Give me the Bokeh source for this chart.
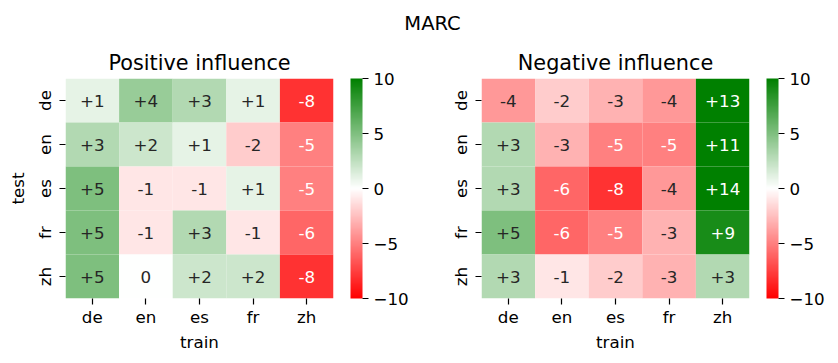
import numpy as np
from bokeh.plotting import figure
from bokeh.models import (FactorRange, ColumnDataSource, LinearColorMapper, ColorBar,
                          FixedTicker)
from bokeh.layouts import column, row
from bokeh.embed import file_html
from bokeh.resources import INLINE
from bokeh.core.properties import value
from bokeh.transform import transform

# ---------------- data ----------------
main_title = "MARC"
subtitles = ["Positive influence", "Negative influence"]
train_langs = ["de", "en", "es", "fr", "zh"]
test_langs = ["de", "en", "es", "fr", "zh"]
# rows = test language, columns = train language
positive = [
    [1, 4, 3, 1, -8],
    [3, 2, 1, -2, -5],
    [5, -1, -1, 1, -5],
    [5, -1, 3, -1, -6],
    [5, 0, 2, 2, -8],
]
negative = [
    [-4, -2, -3, -4, 13],
    [3, -3, -5, -5, 11],
    [3, -6, -8, -4, 14],
    [5, -6, -5, -3, 9],
    [3, -1, -2, -3, 3],
]
cbar_ticks = [-10, -5, 0, 5, 10]
cbar_tick_labels = ["\u221210", "\u22125", "0", "5", "10"]
vmin, vmax = -10, 10

FONT = "DejaVu Sans"
DARK = "#262626"


def rgb_at(t):
    t = min(max(t, 0.0), 1.0)
    if t < 0.5:
        f = t / 0.5
        return (255.0, 255.0 * f, 255.0 * f)
    f = (t - 0.5) / 0.5
    return (255.0 * (1 - f), 255.0 + (128.0 - 255.0) * f, 255.0 * (1 - f))


def hexc(c):
    return "#%02x%02x%02x" % tuple(int(round(v)) for v in c)


palette = [hexc(rgb_at(i / 255.0)) for i in range(256)]


def lum(c):
    out = []
    for v in c:
        v = v / 255.0
        out.append(v / 12.92 if v <= 0.03928 else ((v + 0.055) / 1.055) ** 2.4)
    return 0.2126 * out[0] + 0.7152 * out[1] + 0.0722 * out[2]


def heat(matrix, subtitle, show_ylabel, left_border, right_border):
    xs, ys, vals, labs, tcols = [], [], [], [], []
    for i, tl in enumerate(test_langs):
        for j, tr in enumerate(train_langs):
            v = matrix[i][j]
            xs.append(tr)
            ys.append(tl)
            vals.append(v)
            labs.append(("+%d" % v) if v > 0 else ("%d" % v))
            c = rgb_at((v - vmin) / (vmax - vmin))
            tcols.append(DARK if lum(c) > 0.408 else "white")
    src = ColumnDataSource(dict(train=xs, test=ys, val=vals, lab=labs, tcol=tcols))
    mapper = LinearColorMapper(palette=palette, low=vmin, high=vmax)

    p = figure(x_range=FactorRange(*train_langs), y_range=FactorRange(*test_langs[::-1]),
               frame_width=268, frame_height=220,
               min_border_left=left_border, min_border_right=right_border,
               min_border_top=40, min_border_bottom=65,
               toolbar_location=None, output_backend="svg", title=subtitle)
    p.rect(x="train", y="test", width=1, height=1, source=src,
           fill_color=transform("val", mapper), line_color=None)
    p.text(x="train", y="test", text="lab", source=src, text_align="center",
           text_baseline="middle", text_font_size="16.7px", text_color="tcol",
           text_font=value(FONT))

    p.title.text_font = FONT
    p.title.text_font_size = "20.8px"
    p.title.text_font_style = "normal"
    p.title.align = "center"
    p.title.text_color = "black"
    p.title.standoff = 7

    p.grid.visible = False
    p.outline_line_color = None
    for ax in (p.xaxis[0], p.yaxis[0]):
        ax.axis_line_color = None
        ax.major_tick_out = 6
        ax.major_tick_in = 0
        ax.major_tick_line_color = "black"
        ax.major_tick_line_width = 1.2
        ax.major_label_text_font = FONT
        ax.major_label_text_font_size = "16.7px"
        ax.major_label_text_color = "black"
        ax.major_label_standoff = 5
        ax.axis_label_text_font = FONT
        ax.axis_label_text_font_size = "16.7px"
        ax.axis_label_text_font_style = "normal"
        ax.axis_label_text_color = "black"
        ax.axis_label_standoff = 4
    p.xaxis.axis_label = "train"
    p.xaxis.major_label_standoff = 2
    p.xaxis.axis_label_standoff = 2
    if show_ylabel:
        p.yaxis.axis_label = "test"
    p.yaxis.major_label_orientation = "vertical"

    cb = ColorBar(color_mapper=mapper, ticker=FixedTicker(ticks=cbar_ticks),
                  major_label_overrides={t: l for t, l in zip(cbar_ticks, cbar_tick_labels)},
                  width=12, height=220, padding=0, margin=0, location=(17, 0),
                  major_tick_out=6, major_tick_in=0, major_tick_line_color="black",
                  major_tick_line_width=1.2,
                  bar_line_color=None, border_line_color=None, background_fill_alpha=0,
                  major_label_text_font=FONT, major_label_text_font_size="16.7px",
                  major_label_text_color="black", label_standoff=5)
    p.add_layout(cb, "right")
    return p


f1 = heat(positive, subtitles[0], True, 65, 87)
f2 = heat(negative, subtitles[1], False, 61, 89)

# header figure carrying the overall title (frame spans x 26..838 -> centred at 432)
top = figure(width=838, height=38, x_axis_location=None, y_axis_location=None,
             title=main_title, min_border_left=26, min_border_right=0,
             min_border_top=36, min_border_bottom=0,
             toolbar_location=None, output_backend="svg")
top.grid.visible = False
top.outline_line_color = None
top.title.align = "center"
top.title.text_font = FONT
top.title.text_font_size = "19.5px"
top.title.text_font_style = "normal"
top.title.text_color = "black"
top.title.standoff = 3

layout = column(top, row(f1, f2, spacing=0), spacing=0)
open("out.html", "w").write(file_html(layout, INLINE))
